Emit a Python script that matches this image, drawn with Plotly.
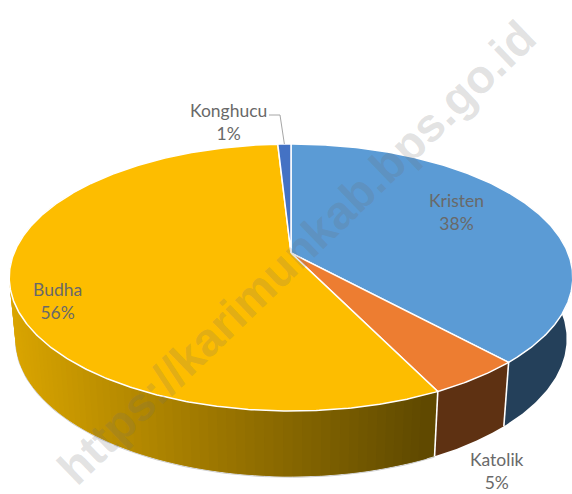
import math
import plotly.graph_objects as go

categories = ["Kristen", "Katolik", "Budha", "Konghucu"]
shares = [38.1, 4.6, 56.4, 0.9]
percent_labels = ["38%", "5%", "56%", "1%"]
top_colors = ["#5B9BD5", "#ED7D31", "#FDBD00", "#4472C4"]
wall_colors = ["#24405A", "#5E3112", None, "#24405A"]
label_xy = [(456, 212), (497, 471), (57, 301), (228, 122)]

W, H = 572, 494
CX, CY, R, RY, K = 291.0, 253.0, 277.0, 129.0, 0.1835
BOTTOM_Y, BOTTOM_SX, BOTTOM_SY = 313.7, 0.978, 1.03
GOLD_L, GOLD_R = (218, 165, 0), (95, 73, 0)


def top(clock):
    a = math.radians(90 - clock)
    d = 1 + K * math.sin(a)
    return CX + R * math.cos(a) / d, CY - RY * math.sin(a) / d


def bottom(clock):
    x, y = top(clock)
    return CX + (x - CX) * BOTTOM_SX, BOTTOM_Y + (y - CY) * BOTTOM_SY


def frange(a, b, n):
    return [a + (b - a) * i / n for i in range(n + 1)]


def poly(xs, ys, fill, line="rgba(0,0,0,0)", width=0):
    return go.Scatter(x=xs, y=ys, mode="lines", fill="toself", fillcolor=fill,
                      line=dict(color=line, width=width), hoverinfo="skip", showlegend=False)


fig = go.Figure()
bounds = [0.0]
for s in shares:
    bounds.append(bounds[-1] + s * 3.6)

# side walls
for i, cat in enumerate(categories[:3]):
    a, b = bounds[i], bounds[i + 1]
    a_vis, b_vis = max(a, 60.0), min(b, 300.0)
    if wall_colors[i]:
        ts = frange(a_vis, b_vis, 120)
        t = [top(c) for c in ts]
        u = [bottom(c) for c in reversed(ts)]
        fig.add_trace(poly([p[0] for p in t + u], [p[1] for p in t + u], wall_colors[i]))
    else:
        n = 90
        ts = frange(a_vis, b_vis, n)
        # faint rim under the wall
        rim = [bottom(c) for c in ts]
        fig.add_trace(go.Scatter(x=[p[0] for p in rim], y=[p[1] + 0.8 for p in rim], mode="lines",
                                 line=dict(color="rgba(170,170,170,0.6)", width=1),
                                 hoverinfo="skip", showlegend=False))
        # strips painted from the far end, each running on underneath the next one
        for j in range(n - 1, -1, -1):
            c0, c1 = ts[j], ts[min(n, j + 2)]
            arc = frange(c0, c1, 4)
            t = [top(c) for c in arc]
            u = [bottom(c) for c in reversed(arc)]
            pts = t + u + t[:1]
            xm = top((ts[j] + ts[j + 1]) / 2)[0]
            f = min(1, max(0, (xm - 10) / 426))
            col = "rgb(%d,%d,%d)" % tuple(round(l + (r - l) * f) for l, r in zip(GOLD_L, GOLD_R))
            fig.add_trace(poly([p[0] for p in pts], [p[1] for p in pts], col))

# white edges between walls
for c in bounds[1:3]:
    p, q = top(c), bottom(c)
    fig.add_trace(go.Scatter(x=[p[0], q[0]], y=[p[1], q[1]], mode="lines",
                             line=dict(color="white", width=1.6), hoverinfo="skip", showlegend=False))

# top surface
for i in range(len(categories)):
    ts = frange(bounds[i], bounds[i + 1], max(4, int((bounds[i + 1] - bounds[i]) * 2)))
    pts = [(CX, CY)] + [top(c) for c in ts] + [(CX, CY)]
    fig.add_trace(poly([p[0] for p in pts], [p[1] for p in pts], top_colors[i], "white", 1.5))

# leader line of the smallest slice
mid = (bounds[3] + bounds[4]) / 2
m = top(mid)
fig.add_trace(go.Scatter(x=[label_xy[3][0] + 41, label_xy[3][0] + 52, m[0]], y=[115, 115, m[1]],
                         mode="lines", line=dict(color="#A6A6A6", width=1), hoverinfo="skip", showlegend=False))

annotations = []
for cat, pct, (x, y) in zip(categories, percent_labels, label_xy):
    annotations.append(dict(x=x, y=y, xref="x", yref="y", showarrow=False, align="center",
                            text=f"{cat}<br>{pct}",
                            font=dict(family="Lato", size=17.5, color="#696969")))
annotations.append(dict(x=296, y=252, xref="x", yref="y", showarrow=False, textangle=-44,
                        text="https://karimunkab.bps.go.id",
                        font=dict(family="Liberation Sans", size=47, color="rgba(110,110,110,0.2)", weight="bold")))

fig.update_layout(
    width=W, height=H, margin=dict(l=0, r=0, t=0, b=0), autosize=False,
    paper_bgcolor="white", plot_bgcolor="white", showlegend=False,
    xaxis=dict(range=[0, W], visible=False, fixedrange=True),
    yaxis=dict(range=[H, 0], visible=False, fixedrange=True),
    annotations=annotations,
)
fig.write_html("out.html", config={"displayModeBar": False},
               post_script="document.body.style.margin='0';document.body.style.overflow='hidden';")
